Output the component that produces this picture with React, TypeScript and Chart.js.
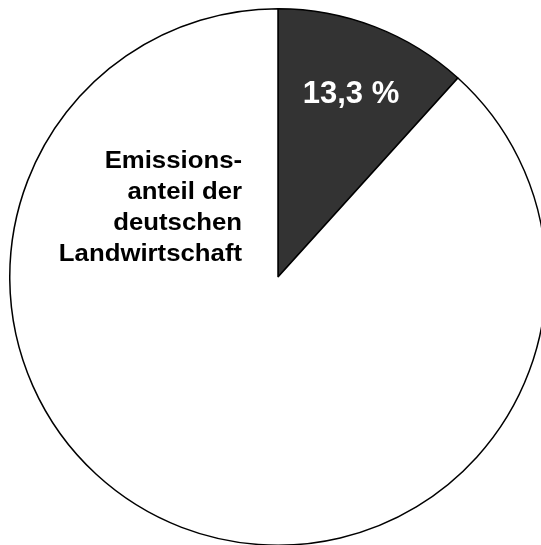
import React, { useEffect, useRef } from "react";
import { Chart, registerables } from "chart.js";

Chart.register(...registerables);

// Slice shares as drawn in the picture (agriculture first, clockwise from top)
const categories = ["Landwirtschaft", "Übrige Emissionen"];
const shares = [11.7, 88.3];
const sliceColors = ["#333333", "#ffffff"];
const shareLabel = "13,3 %";
const sideLabelLines = ["Emissions-", "anteil der", "deutschen", "Landwirtschaft"];

const labelPlugin = {
  id: "pieLabels",
  afterDraw(chart: any) {
    const meta = chart.getDatasetMeta(0);
    const arc = meta.data[0];
    if (!arc) return;
    const cx = arc.x;
    const cy = arc.y;
    const r = arc.outerRadius;
    const ctx = chart.ctx;
    ctx.save();
    // value label inside the dark slice
    ctx.fillStyle = "#ffffff";
    ctx.font = "bold 31px 'Liberation Sans', Arial, sans-serif";
    ctx.textAlign = "center";
    ctx.textBaseline = "alphabetic";
    ctx.fillText(shareLabel, cx + 0.272 * r, cy - 0.65 * r);
    // side label, right aligned next to the slice
    ctx.fillStyle = "#000000";
    ctx.font = "bold 23px 'Liberation Sans', Arial, sans-serif";
    ctx.textAlign = "right";
    const rightX = cx - 0.134 * r;
    const baseY = cy - 0.406 * r;
    const step = 0.115 * r;
    const sx = 1.12;
    sideLabelLines.forEach((line, i) => {
      ctx.save();
      ctx.translate(rightX, baseY + i * step);
      ctx.scale(sx, 1);
      ctx.fillText(line, 0, 0);
      ctx.restore();
    });
    ctx.restore();
  },
};

export default function App() {
  const ref = useRef<HTMLCanvasElement | null>(null);
  useEffect(() => {
    if (!ref.current) return;
    const chart = new Chart(ref.current, {
      type: "pie",
      data: {
        labels: categories,
        datasets: [
          {
            data: shares,
            backgroundColor: sliceColors,
            borderColor: "#000000",
            borderWidth: 1.5,
          },
        ],
      },
      options: {
        responsive: false,
        animation: false,
        layout: { padding: 0 },
        plugins: {
          legend: { display: false },
          tooltip: { enabled: false },
        },
      },
      plugins: [labelPlugin],
    });
    return () => chart.destroy();
  }, []);
  return (
    <div
      style={{
        position: "fixed",
        left: 0,
        top: 0,
        width: 541,
        height: 545,
        overflow: "hidden",
        background: "#ffffff",
      }}
    >
      <canvas
        ref={ref}
        width={540}
        height={538}
        style={{ position: "absolute", left: 8, top: 8, width: 540, height: 538 }}
      />
    </div>
  );
}
